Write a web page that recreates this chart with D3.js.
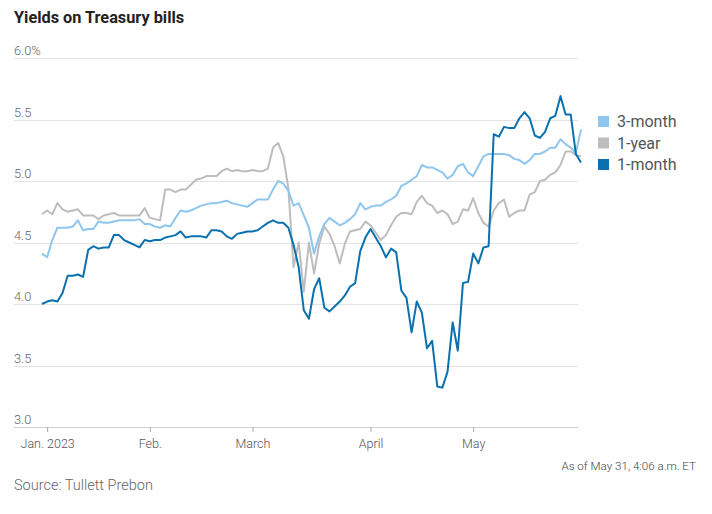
<!DOCTYPE html>
<html>
<head>
<meta charset="utf-8">
<script src="https://cdnjs.cloudflare.com/ajax/libs/d3/7.8.5/d3.min.js"></script>
<style>
  body { margin: 0; background: #fff; }
  svg { display: block; }
</style>
</head>
<body>
<div id="chart"></div>
<script>
// daily yields, Dec 30 2022 .. May 31 2023 (trading days)
var oneMonth = [
  4.00, 4.02, 4.03, 4.02, 4.09, 4.23, 4.23, 4.24, 4.22, 4.44,
  4.47, 4.45, 4.46, 4.46, 4.56, 4.56, 4.52, 4.50, 4.48, 4.46,
  4.52, 4.51, 4.52, 4.52, 4.54, 4.55, 4.56, 4.59, 4.54, 4.55,
  4.55, 4.55, 4.54, 4.60, 4.60, 4.59, 4.55, 4.53, 4.57, 4.58,
  4.59, 4.59, 4.60, 4.63, 4.66, 4.68, 4.66, 4.66, 4.62, 4.48,
  4.30, 3.95, 3.88, 4.12, 4.21, 3.97, 3.94, 3.98, 4.02, 4.07,
  4.14, 4.17, 4.43, 4.54, 4.61, 4.54, 4.47, 4.38, 4.45, 4.42,
  4.11, 4.05, 3.77, 4.02, 3.93, 3.64, 3.70, 3.33, 3.32, 3.45,
  3.85, 3.62, 4.17, 4.18, 4.41, 4.33, 4.46, 4.47, 5.38, 5.36,
  5.44, 5.43, 5.43, 5.51, 5.56, 5.51, 5.37, 5.35, 5.40, 5.51,
  5.53, 5.69, 5.54, 5.54, 5.22, 5.15
];
var threeMonth = [
  4.41, 4.38, 4.52, 4.62, 4.62, 4.62, 4.63, 4.68, 4.60, 4.61,
  4.61, 4.67, 4.66, 4.66, 4.67, 4.68, 4.68, 4.68, 4.68, 4.69,
  4.65, 4.65, 4.63, 4.62, 4.64, 4.63, 4.70, 4.76, 4.75, 4.76,
  4.78, 4.80, 4.81, 4.82, 4.82, 4.83, 4.84, 4.82, 4.81, 4.80,
  4.79, 4.82, 4.85, 4.85, 4.85, 4.93, 5.00, 4.98, 4.92, 4.80,
  4.82, 4.72, 4.62, 4.41, 4.55, 4.65, 4.70, 4.67, 4.64, 4.66,
  4.69, 4.73, 4.82, 4.77, 4.79, 4.80, 4.80, 4.83, 4.85, 4.88,
  4.96, 4.98, 5.01, 5.04, 5.13, 5.11, 5.11, 5.09, 5.07, 5.02,
  5.05, 5.12, 5.14, 5.07, 5.04, 5.12, 5.20, 5.22, 5.22, 5.22,
  5.22, 5.21, 5.18, 5.17, 5.14, 5.17, 5.22, 5.22, 5.24, 5.27,
  5.27, 5.34, 5.30, 5.27, 5.23, 5.42
];
var oneYear = [
  4.73, 4.76, 4.73, 4.82, 4.77, 4.75, 4.76, 4.77, 4.72, 4.72,
  4.72, 4.69, 4.72, 4.73, 4.74, 4.72, 4.72, 4.72, 4.72, 4.72,
  4.78, 4.70, 4.69, 4.68, 4.93, 4.93, 4.91, 4.93, 4.93, 4.97,
  5.01, 5.02, 5.04, 5.04, 5.04, 5.08, 5.10, 5.08, 5.09, 5.08,
  5.08, 5.09, 5.08, 5.08, 5.10, 5.27, 5.31, 5.20, 4.94, 4.30,
  4.50, 4.10, 4.50, 4.25, 4.49, 4.63, 4.57, 4.47, 4.33, 4.49,
  4.59, 4.60, 4.61, 4.67, 4.64, 4.58, 4.52, 4.56, 4.64, 4.71,
  4.74, 4.74, 4.73, 4.83, 4.88, 4.82, 4.80, 4.74, 4.76, 4.73,
  4.65, 4.67, 4.77, 4.76, 4.86, 4.74, 4.66, 4.63, 4.76, 4.82,
  4.85, 4.71, 4.74, 4.76, 4.76, 4.89, 4.91, 5.00, 5.01, 5.05,
  5.07, 5.13, 5.24, 5.24, 5.21, 5.20
];

// index of the first trading day of each month
var monthTicks = [1, 21, 41, 64, 84];
var monthLabels = ["Jan. 2023", "Feb.", "March", "April", "May"];
var yTicks = [3, 3.5, 4, 4.5, 5, 5.5, 6];
var legendLabels = ["3-month", "1-year", "1-month"];

var attrs = {
  width: 712,
  height: 514,
  plotLeft: 14,
  plotRight: 578,
  lineStart: 42,
  lineEnd: 581,
  yTop: 58,
  yBottom: 427,
  colorOneMonth: "#0a71ae",
  colorThreeMonth: "#8fc6ee",
  colorOneYear: "#bdbdc0",
  gridColor: "#e3e3e6",
  textColor: "#666",
  font: "Roboto, 'Open Sans', sans-serif"
};

var svg = d3.select("#chart").append("svg")
  .attr("width", attrs.width)
  .attr("height", attrs.height);

var x = d3.scaleLinear()
  .domain([0, oneMonth.length - 1])
  .range([attrs.lineStart, attrs.lineEnd]);

var y = d3.scaleLinear()
  .domain([3, 6])
  .range([attrs.yBottom, attrs.yTop]);

// title
svg.append("text")
  .attr("x", 14)
  .attr("y", 23)
  .attr("font-family", attrs.font)
  .attr("font-weight", 700)
  .attr("font-size", 16.3)
  .attr("fill", "#222")
  .text("Yields on Treasury bills");

// gridlines + y labels
var grid = svg.append("g");
grid.selectAll("line").data(yTicks).enter().append("line")
  .attr("x1", attrs.plotLeft)
  .attr("x2", attrs.plotRight)
  .attr("y1", d => Math.round(y(d)) + 0.5)
  .attr("y2", d => Math.round(y(d)) + 0.5)
  .attr("stroke", d => d === 3 ? "#cfcfd2" : attrs.gridColor)
  .attr("stroke-width", 1);

grid.selectAll("text").data(yTicks).enter().append("text")
  .attr("x", attrs.plotLeft)
  .attr("y", d => y(d) - 3)
  .attr("font-family", attrs.font)
  .attr("font-weight", 300)
  .attr("font-size", 12.8)
  .attr("fill", attrs.textColor)
  .text(d => d === 6 ? d3.format(".1f")(d) + "%" : d3.format(".1f")(d));

// x axis
var xAxis = d3.axisBottom(x)
  .tickValues(monthTicks)
  .tickFormat((d, i) => monthLabels[i])
  .tickSize(5)
  .tickPadding(7);

var xg = svg.append("g")
  .attr("transform", "translate(0," + attrs.yBottom + ")")
  .call(xAxis);
xg.select(".domain").remove();
xg.selectAll(".tick line").attr("stroke", "#aaa");
xg.selectAll(".tick text")
  .attr("font-family", attrs.font)
  .attr("font-weight", 300)
  .attr("font-size", 12.5)
  .attr("fill", "#555");

// lines
var line = d3.line()
  .x((d, i) => x(i))
  .y(d => y(d));

var seriesList = [
  { values: oneYear, color: attrs.colorOneYear },
  { values: threeMonth, color: attrs.colorThreeMonth },
  { values: oneMonth, color: attrs.colorOneMonth }
];

svg.append("g").selectAll("path").data(seriesList).enter().append("path")
  .attr("d", d => line(d.values))
  .attr("fill", "none")
  .attr("stroke", d => d.color)
  .attr("stroke-width", 2)
  .attr("stroke-linejoin", "round");

// legend
var legendColors = [attrs.colorThreeMonth, attrs.colorOneYear, attrs.colorOneMonth];
var legend = svg.append("g").attr("transform", "translate(598,116)");
var item = legend.selectAll("g").data(legendLabels).enter().append("g")
  .attr("transform", (d, i) => "translate(0," + (i * 21.5) + ")");
item.append("rect")
  .attr("width", 11)
  .attr("height", 11)
  .attr("fill", (d, i) => legendColors[i]);
item.append("text")
  .attr("x", 19)
  .attr("y", 11)
  .attr("font-family", attrs.font)
  .attr("font-size", 16)
  .attr("fill", "#555")
  .text(d => d);

// notes
svg.append("text")
  .attr("x", 696)
  .attr("y", 470)
  .attr("text-anchor", "end")
  .attr("font-family", attrs.font)
  .attr("font-weight", 300)
  .attr("font-size", 11.6)
  .attr("fill", "#444")
  .text("As of May 31, 4:06 a.m. ET");

svg.append("text")
  .attr("x", 14)
  .attr("y", 490)
  .attr("font-family", attrs.font)
  .attr("font-weight", 300)
  .attr("font-size", 14.5)
  .attr("fill", "#666")
  .text("Source: Tullett Prebon");
</script>
</body>
</html>
